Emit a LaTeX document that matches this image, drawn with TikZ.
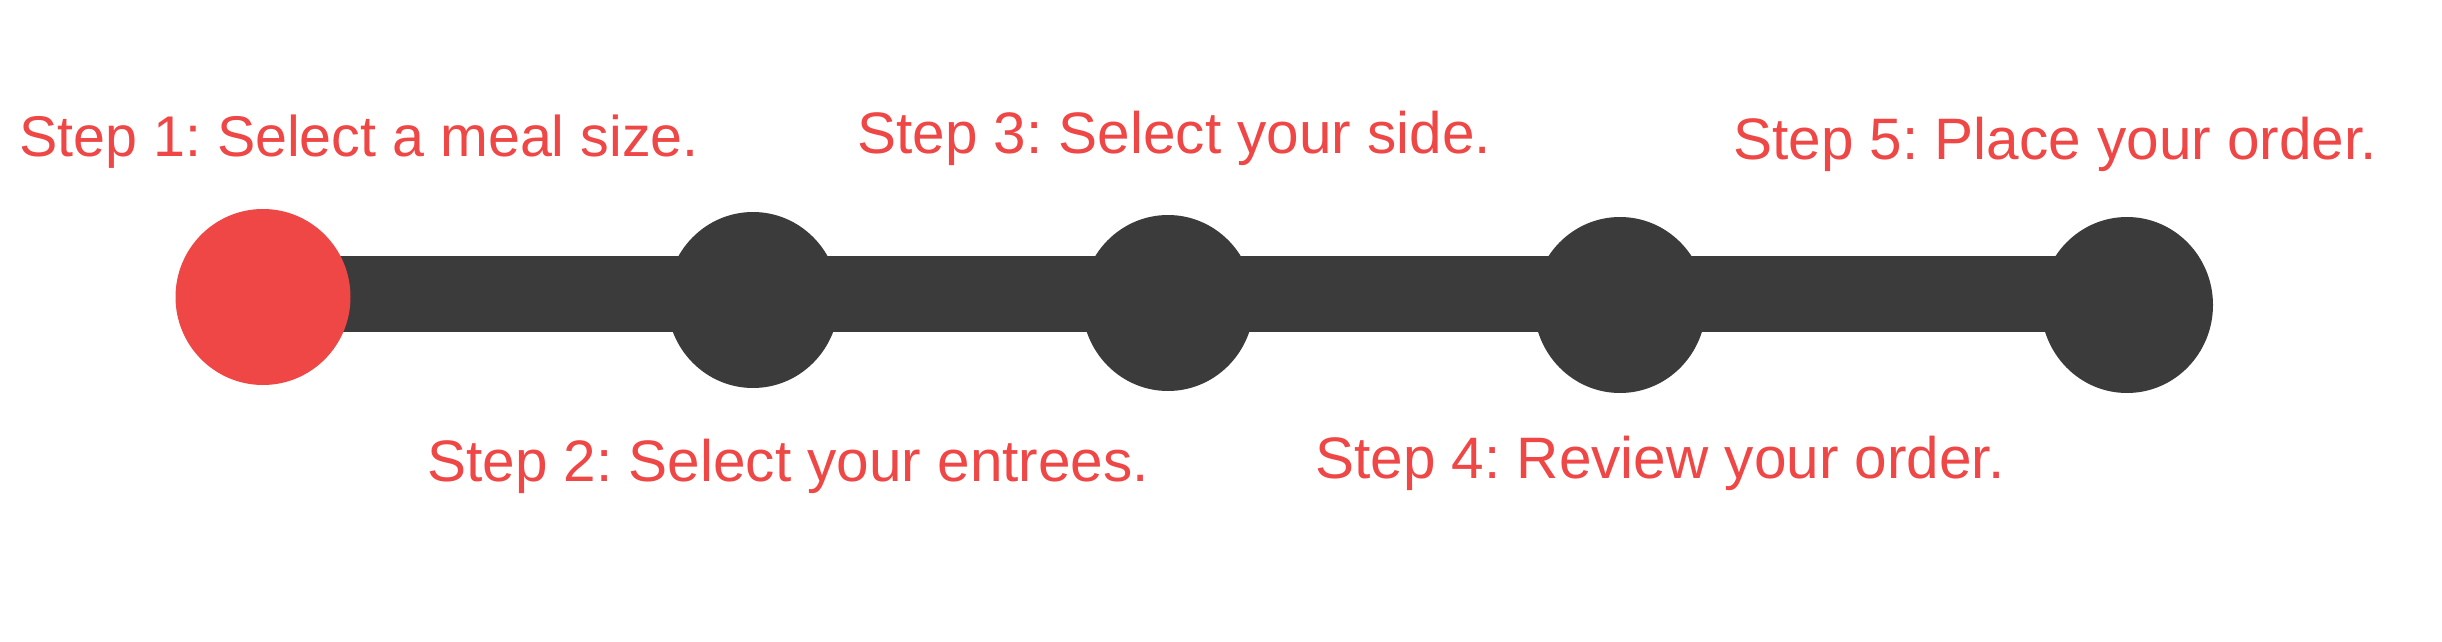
\documentclass[tikz,border=0pt]{standalone}
\usepackage{fontspec}
\setmainfont{Liberation Sans}
\usetikzlibrary{shapes.geometric}
\definecolor{stepred}{RGB}{239,70,70}
\definecolor{bardark}{RGB}{59,59,59}
\frenchspacing
\begin{document}
\begin{tikzpicture}[x=1pt,y=-1pt,
  lbl/.style={text=stepred, font=\fontsize{58.5}{70}\selectfont, anchor=base west, inner sep=0pt},
  dot/.style={ellipse, fill=bardark, minimum width=172pt, minimum height=176pt, inner sep=0pt},
  bar/.style={draw=bardark, line width=76pt}]
\useasboundingbox (0,0) rectangle (2442,642);
\coordinate (barL) at (263,294);
\coordinate (barR) at (2127,294);
\draw[bar] (barL) -- (barR);
\node[dot, fill=stepred, minimum width=175pt] (c1) at (263,297) {};
\node[dot] (c2) at (753,300) {};
\node[dot] (c3) at (1168,303) {};
\node[dot] (c4) at (1620,305) {};
\node[dot] (c5) at (2127,305) {};
\node[lbl, font=\fontsize{57.4}{69}\selectfont] (t1) at (19,156) {Step 1: Select a meal size.};
\node[lbl] (t2) at (427,481) {Step 2: Select your entrees.};
\node[lbl] (t3) at (857,153) {Step 3: Select your side.};
\node[lbl] (t4) at (1315,478) {Step 4: Review your order.};
\node[lbl] (t5) at (1733,159) {Step 5: Place your order.};
\end{tikzpicture}
\end{document}
